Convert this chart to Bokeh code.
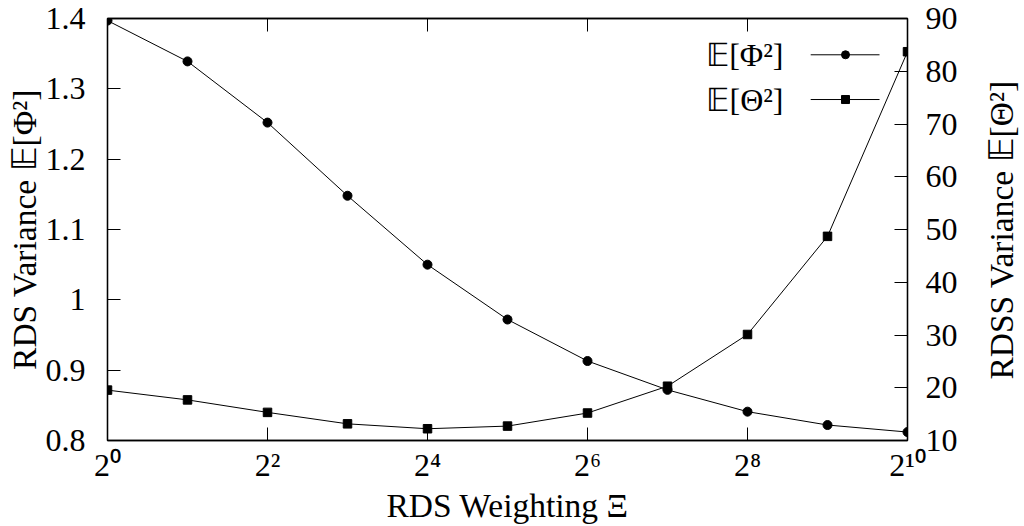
import math

from bokeh.core.properties import value
from bokeh.embed import file_html
from bokeh.layouts import row
from bokeh.models import FixedTicker, LinearAxis, LogAxis, Range1d
from bokeh.plotting import figure
from bokeh.resources import INLINE

# RDS weighting Xi = 2^0 ... 2^10
xi = [2 ** k for k in range(11)]

# RDS variance E[Phi^2] (left axis)
phi_var = [1.397, 1.339, 1.252, 1.148, 1.050, 0.972, 0.913, 0.872, 0.841, 0.822, 0.812]

# RDSS variance E[Theta^2] (right axis)
theta_var = [19.55, 17.7, 15.33, 13.16, 12.23, 12.73, 15.21, 20.29, 30.1, 48.7, 83.7]

x_ticks = [1, 4, 16, 64, 256, 1024]
x_tick_labels = ["2⁰", "2²", "2⁴", "2⁶", "2⁸", "2¹⁰"]
left_ticks = [0.8, 0.9, 1.0, 1.1, 1.2, 1.3, 1.4]
left_tick_labels = ["0.8", "0.9", "1", "1.1", "1.2", "1.3", "1.4"]
right_ticks = [10, 20, 30, 40, 50, 60, 70, 80, 90]

series_names = ["𝔼[Φ²]", "𝔼[Θ²]"]
right_title = "RDSS Variance 𝔼[Θ²]"

FONT = "Liberation Serif"
FS = "32px"
LFS = "33.5px"
X_MIN, X_MAX = 1, 1024
PHI_MIN, PHI_MAX = 0.8, 1.4
THETA_MIN, THETA_MAX = 10, 90

TOTAL_W, TOTAL_H = 1024, 526
MAIN_W = 967          # main chart; the rest holds the rotated right-hand title
TITLE_W = TOTAL_W - MAIN_W

p = figure(
    width=MAIN_W, height=TOTAL_H,
    x_axis_type="log",
    x_range=Range1d(X_MIN, X_MAX),
    y_range=Range1d(PHI_MIN, PHI_MAX),
    output_backend="svg", toolbar_location=None,
    min_border_left=107, min_border_right=MAIN_W - 907,
    min_border_top=18, min_border_bottom=78,
)
p.extra_y_ranges = {"theta": Range1d(THETA_MIN, THETA_MAX)}
p.grid.visible = False
p.outline_line_color = "black"
p.outline_line_width = 1.3
p.background_fill_color = "white"
p.border_fill_color = "white"


def style_axis(ax, standoff):
    ax.axis_line_color = "black"
    ax.axis_line_width = 1.3
    ax.major_tick_in = 13
    ax.major_tick_out = 0
    ax.major_tick_line_width = 1
    ax.minor_tick_in = 0
    ax.minor_tick_out = 0
    ax.major_label_text_font = FONT
    ax.major_label_text_font_size = FS
    ax.major_label_text_color = "black"
    ax.major_label_standoff = standoff
    ax.axis_label_text_font = FONT
    ax.axis_label_text_font_size = LFS
    ax.axis_label_text_font_style = "normal"
    ax.axis_label_text_color = "black"


# bottom x axis
xa = p.xaxis[0]
xa.ticker = FixedTicker(ticks=x_ticks)
xa.major_label_overrides = dict(zip(x_ticks, x_tick_labels))
style_axis(xa, 6)
xa.axis_label = "RDS Weighting Ξ"
xa.axis_label_standoff = 1

# left y axis
ya = p.yaxis[0]
ya.ticker = FixedTicker(ticks=left_ticks)
ya.major_label_overrides = dict(zip(left_ticks, left_tick_labels))
style_axis(ya, 22)
ya.axis_label = "RDS Variance 𝔼[Φ²]"
ya.axis_label_standoff = 0

# right y axis for Theta
ra = LinearAxis(y_range_name="theta", ticker=FixedTicker(ticks=right_ticks))
style_axis(ra, 18)
p.add_layout(ra, "right")

# top axis: tick marks only
ta = LogAxis(ticker=FixedTicker(ticks=x_ticks))
style_axis(ta, 0)
ta.major_label_text_font_size = "1px"
ta.major_label_text_color = None
p.add_layout(ta, "above")

# data series
p.line(xi, phi_var, line_color="black", line_width=1)
p.scatter(xi, phi_var, marker="circle", size=9, fill_color="black", line_color="black")
p.line(xi, theta_var, line_color="black", line_width=1, y_range_name="theta")
p.scatter(xi, theta_var, marker="square", size=8.5, fill_color="black",
          line_color="black", y_range_name="theta")


def frac_x(f):
    lo, hi = math.log2(X_MIN), math.log2(X_MAX)
    return 2 ** (lo + f * (hi - lo))


def frac_y(f_from_top):
    return PHI_MAX - f_from_top * (PHI_MAX - PHI_MIN)


# legend drawn inside the frame: label on the left, sample on the right
rows = [0.086, 0.192]
markers = ["circle", "square"]
text_x = frac_x(0.845)
line_x0, line_x1, mark_x = frac_x(0.879), frac_x(0.965), frac_x(0.9225)
for name, row_f, mk in zip(series_names, rows, markers):
    yy = frac_y(row_f)
    p.text([text_x], [yy], text=[name], text_align="right", text_baseline="middle",
           text_font=value(FONT), text_font_size=FS, text_color="black")
    p.line([line_x0, line_x1], [yy, yy], line_color="black", line_width=1)
    p.scatter([mark_x], [yy], marker=mk, size=8, fill_color="black", line_color="black")

# narrow strip carrying the right-hand axis title, reading bottom to top
q = figure(
    width=TITLE_W, height=TOTAL_H,
    x_range=Range1d(0, 1), y_range=Range1d(0, 1),
    output_backend="svg", toolbar_location=None,
    x_axis_location=None, y_axis_location=None,
    min_border=0, min_border_left=0, min_border_right=0,
    min_border_top=0, min_border_bottom=0,
)
q.grid.visible = False
q.outline_line_color = None
q.background_fill_color = "white"
q.border_fill_color = "white"
q.text([0.6], [0.499], text=[right_title], angle=math.pi / 2,
       text_align="center", text_baseline="middle",
       text_font=value(FONT), text_font_size=LFS, text_color="black")

layout = row(p, q, spacing=0)
open("out.html", "w").write(file_html(layout, INLINE))
